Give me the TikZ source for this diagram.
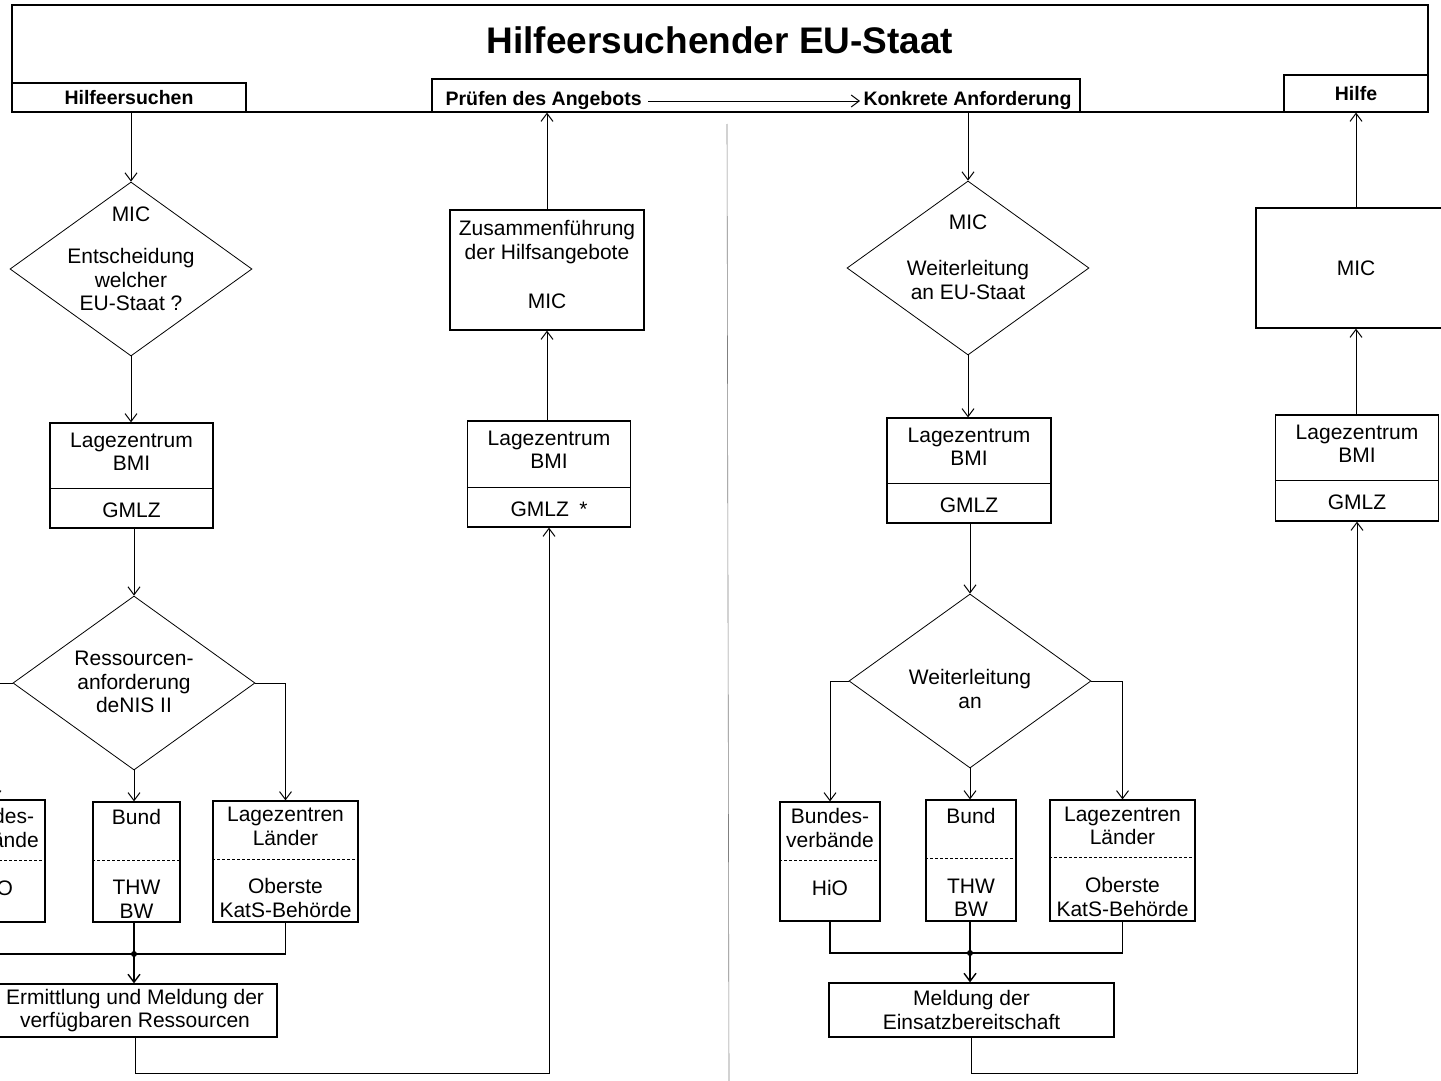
\documentclass[tikz,border=0pt]{standalone}
\usepackage{fontspec}
\setmainfont{Liberation Sans}
\usetikzlibrary{shapes.geometric,arrows.meta}

\begin{document}
\begin{tikzpicture}[x=1pt,y=-1pt,line width=1pt,>={Straight Barb[length=8pt,width=12pt]},
        every node/.style={font=\fontsize{21}{23.5}\selectfont},
        kasten/.style={draw,line width=1.2pt,inner sep=0pt},
        raute/.style={draw,diamond,line width=0.8pt,inner sep=0pt,minimum width=242pt,minimum height=174pt},
        txt/.style={align=center,inner sep=0pt},
        kopf/.style={inner sep=0pt,font=\fontsize{19.5}{22}\selectfont\bfseries},
        trenn/.style={line width=0.6pt,dash pattern=on 3pt off 2pt},
        punkt/.style={circle,fill,inner sep=0pt,minimum size=6pt}]
            \useasboundingbox (0,0) rectangle (1441,1081);
            \fill[white] (0,0) rectangle (1441,1081);
            \clip (0,0) rectangle (1441,1081);
            \draw[line width=1.2pt] (12,5) rectangle (1428,112);
            \node[font=\fontsize{37}{40}\selectfont\bfseries] (titel) at (720,40) {Hilfeersuchender EU-Staat};
            \node[kasten,kopf,minimum width=234pt,minimum height=29pt] (ersuchen) at (129,97.5) {Hilfeersuchen};
            \node[kasten,minimum width=648pt,minimum height=33pt] (pruefbox) at (756,95.5) {};
            \node[kopf,anchor=base west] (pruefen) at (445,106) {Prüfen des Angebots};
            \node[kopf,anchor=base east] (konkret) at (1072,106) {Konkrete Anforderung};
            \draw[->,shorten <=6pt,shorten >=3pt] (pruefen.east) -- (konkret.west);
            \node[kasten,kopf,minimum width=144pt,minimum height=37pt] (hilfe) at (1356,93.5) {Hilfe};
            \draw[line width=0.6pt,gray] (727,124) -- (729,1081);
            \node[raute] (wahl) at (131,269) {};
            \node[txt] (wahltxt) at (131,259) {MIC\\[19pt]Entscheidung\\welcher\\EU-Staat ?};
            \node[kasten,minimum width=163pt,minimum height=105pt] (lz1) at (131.5,475.5) {};
            \node[txt] (lz1oben) at (131.5,452) {Lagezentrum\\BMI};
            \node[txt] (lz1unten) at (131.5,510) {GMLZ};
            \draw ([yshift=40pt]lz1.south west) -- ([yshift=40pt]lz1.south east);
            \node[raute] (anford) at (134,683) {};
            \node[txt] (anfordtxt) at (134,682) {Ressourcen-\\anforderung\\deNIS II};
            \node[kasten,minimum width=100pt,minimum height=122pt] (bv1) at (-5,861) {};
            \node[txt] (bv1oben) at (-5,828) {Bundes-\\verbände};
            \node[txt] (bv1unten) at (-5,888) {HiO};
            \draw[trenn] ([yshift=62pt]bv1.south west) -- ([yshift=62pt]bv1.south east);
            \node[kasten,minimum width=87pt,minimum height=120pt] (bund1) at (136.5,862) {};
            \node[txt] (bund1oben) at (136.5,817) {Bund};
            \node[txt] (bund1unten) at (136.5,899.5) {THW\\BW};
            \draw[trenn] ([yshift=62pt]bund1.south west) -- ([yshift=62pt]bund1.south east);
            \node[kasten,minimum width=145pt,minimum height=121pt] (lzl1) at (285.5,861.5) {};
            \node[txt] (lzl1oben) at (285.5,826.5) {Lagezentren\\Länder};
            \node[txt] (lzl1unten) at (285.5,898) {Oberste\\KatS-Behörde};
            \draw[trenn] ([yshift=63pt]lzl1.south west) -- ([yshift=63pt]lzl1.south east);
            \node[punkt] (j1) at (134,954) {};
            \node[kasten,align=center,minimum width=284pt,minimum height=53pt] (ermittlung) at (135,1010.5) {Ermittlung und Meldung der\\verfügbaren Ressourcen};
            \draw[->] (wahl.north |- ersuchen.south) -- (wahl.north);
            \draw[->] (wahl.south) -- (wahl.south |- lz1.north);
            \draw[->] (anford.north |- lz1.south) -- (anford.north);
            \draw[->] (anford.west) -| (bv1.north);
            \draw[->] (anford.south) -- (anford.south |- bund1.north);
            \draw[->] (anford.east) -| (lzl1.north);
            \draw[line width=1.4pt] (bv1.south) |- (j1.center) -| (lzl1.south);
            \draw[line width=1.4pt] (j1.center |- bund1.south) -- (j1.center);
            \draw[->,line width=1.4pt] (j1.center) -- (j1.center |- ermittlung.north);
            \node[kasten,minimum width=163pt,minimum height=106pt] (lz2) at (549,474) {};
            \node[txt] (lz2oben) at (549,450) {Lagezentrum\\BMI};
            \node[txt] (lz2unten) at (549,509) {GMLZ\enspace *};
            \draw ([yshift=40pt]lz2.south west) -- ([yshift=40pt]lz2.south east);
            \node[kasten,minimum width=194pt,minimum height=120pt] (zusammen) at (547,270) {};
            \node[txt] (zusoben) at (547,242) {Zusammenführung\\der Hilfsangebote};
            \node[txt] (zusunten) at (547,301) {MIC};
            \draw[->] (ermittlung.south) -- ++(0,36) -| (lz2.south);
            \draw[->] (lz2.north -| zusammen.south) -- (zusammen.south);
            \draw[->] (zusammen.north) -- (zusammen.north |- pruefbox.south);
            \node[raute] (weiter) at (968,268) {};
            \node[txt] (weitertxt) at (968,257) {MIC\\[23pt]Weiterleitung\\an EU-Staat};
            \node[kasten,minimum width=164pt,minimum height=105pt] (lz3) at (969,470.5) {};
            \node[txt] (lz3oben) at (969,447) {Lagezentrum\\BMI};
            \node[txt] (lz3unten) at (969,505) {GMLZ};
            \draw ([yshift=40pt]lz3.south west) -- ([yshift=40pt]lz3.south east);
            \node[raute] (verteil) at (970,681) {};
            \node[txt] (verteiltxt) at (970,689) {Weiterleitung\\an};
            \node[kasten,minimum width=100pt,minimum height=119pt] (bv2) at (830,861.5) {};
            \node[txt] (bv2oben) at (830,828) {Bundes-\\verbände};
            \node[txt] (bv2unten) at (830,888) {HiO};
            \draw[trenn] ([yshift=61pt]bv2.south west) -- ([yshift=61pt]bv2.south east);
            \node[kasten,minimum width=90pt,minimum height=121pt] (bund2) at (971,860.5) {};
            \node[txt] (bund2oben) at (971,816) {Bund};
            \node[txt] (bund2unten) at (971,898) {THW\\BW};
            \draw[trenn] ([yshift=63pt]bund2.south west) -- ([yshift=63pt]bund2.south east);
            \node[kasten,minimum width=145pt,minimum height=121pt] (lzl2) at (1122.5,860.5) {};
            \node[txt] (lzl2oben) at (1122.5,826) {Lagezentren\\Länder};
            \node[txt] (lzl2unten) at (1122.5,897) {Oberste\\KatS-Behörde};
            \draw[trenn] ([yshift=64pt]lzl2.south west) -- ([yshift=64pt]lzl2.south east);
            \node[punkt] (j2) at (970,953) {};
            \node[kasten,align=center,minimum width=285pt,minimum height=54pt] (meldung) at (971.5,1010) {Meldung der\\Einsatzbereitschaft};
            \draw[->] (weiter.north |- pruefbox.south) -- (weiter.north);
            \draw[->] (weiter.south) -- (weiter.south |- lz3.north);
            \draw[->] (verteil.north |- lz3.south) -- (verteil.north);
            \draw[->] (verteil.west) -| (bv2.north);
            \draw[->] (verteil.south) -- (verteil.south |- bund2.north);
            \draw[->] (verteil.east) -| (lzl2.north);
            \draw[line width=1.4pt] (bv2.south) |- (j2.center) -| (lzl2.south);
            \draw[line width=1.4pt] (j2.center |- bund2.south) -- (j2.center);
            \draw[->,line width=1.4pt] (j2.center) -- (j2.center |- meldung.north);
            \node[kasten,minimum width=163pt,minimum height=106pt] (lz4) at (1357,468) {};
            \node[txt] (lz4oben) at (1357,444) {Lagezentrum\\BMI};
            \node[txt] (lz4unten) at (1357,502) {GMLZ};
            \draw ([yshift=41pt]lz4.south west) -- ([yshift=41pt]lz4.south east);
            \node[kasten,minimum width=200pt,minimum height=120pt] (mic) at (1356,268) {MIC};
            \draw[->] (meldung.south) -- ++(0,36) -| (lz4.south);
            \draw[->] (lz4.north -| mic.south) -- (mic.south);
            \draw[->] (mic.north) -- (mic.north |- hilfe.south);
        \end{tikzpicture}
\end{document}
